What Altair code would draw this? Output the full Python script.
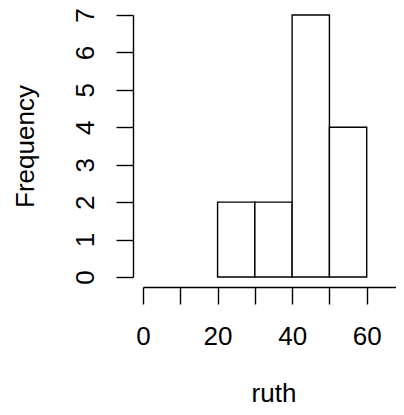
import altair as alt
import pandas as pd

# Histogram bins and counts
bin_start = [20, 30, 40, 50]
bin_end = [30, 40, 50, 60]
counts = [2, 2, 7, 4]

x_ticks = [0, 10, 20, 30, 40, 50, 60, 70]
x_labels = [0, 20, 40, 60]
y_ticks = [0, 1, 2, 3, 4, 5, 6, 7]

df = pd.DataFrame({"start": bin_start, "end": bin_end, "count": counts})

FONT = "Liberation Sans"
FS = 26
LW = 1.4

# plot spans x = 0..70 over 261 px; the last 8 px fall off the page edge
PX_PER_UNIT = 261 / 70
PLOT_W = 253
X_MAX = PLOT_W / PX_PER_UNIT

label_expr = (
    "indexof([" + ",".join(str(v) for v in x_labels) + "], datum.value) >= 0 ? datum.label : ''"
)

chart = (
    alt.Chart(df)
    .mark_rect(fill="white", stroke="black", strokeWidth=LW)
    .encode(
        x=alt.X(
            "start:Q",
            scale=alt.Scale(domain=[0, X_MAX], nice=False, zero=False),
            axis=alt.Axis(
                values=x_ticks,
                labelExpr=label_expr,
                title="ruth",
                offset=10,
                tickSize=17,
                labelPadding=40,
                labelBaseline="alphabetic",
                labelFlush=False,
                labelOverlap=False,
                grid=False,
                titleBaseline="alphabetic",
                titleAlign="center",
                titleX=130.5,
                titleY=114,
            ),
        ),
        x2="end:Q",
        y=alt.Y(
            "count:Q",
            scale=alt.Scale(domain=[0, 7], nice=False),
            axis=alt.Axis(
                values=y_ticks,
                title="Frequency",
                offset=10,
                tickSize=17,
                labelPadding=23,
                labelAngle=270,
                labelAlign="center",
                labelBaseline="alphabetic",
                labelFlush=False,
                labelOverlap=False,
                grid=False,
                titleAngle=270,
                titleAlign="center",
                titleBaseline="alphabetic",
                titleX=-100,
                titleY=131,
            ),
        ),
        y2=alt.datum(0),
    )
    .properties(
        width=PLOT_W,
        height=262,
        autosize=alt.AutoSizeParams(type="none"),
        padding={"left": 135, "top": 7, "right": 0, "bottom": 130},
        background="white",
    )
    .configure_view(stroke=None)
    .configure_axis(
        domainColor="black",
        tickColor="black",
        domainWidth=LW,
        tickWidth=LW,
        labelFont=FONT,
        titleFont=FONT,
        labelFontSize=FS,
        titleFontSize=FS,
        titleFontWeight="normal",
        labelColor="black",
        titleColor="black",
    )
)

chart.save("out.html", embed_options={"renderer": "svg", "actions": False})
